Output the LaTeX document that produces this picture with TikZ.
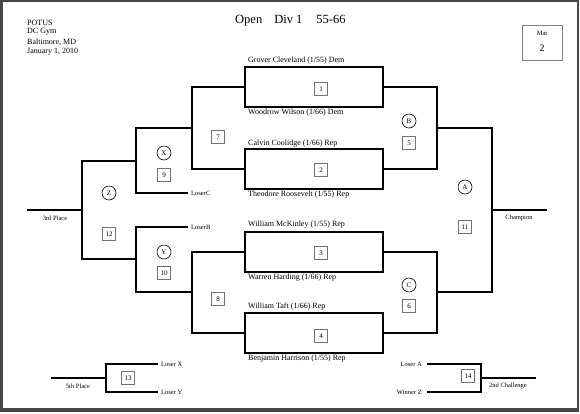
\documentclass[tikz,border=0pt]{standalone}
\usepackage{fontspec}
\setmainfont{Liberation Serif}
\tikzset{
  brk/.style={black, line width=1.2pt},
  mbox/.style={draw=black, line width=1.2pt, minimum width=138pt, minimum height=40pt, inner sep=0pt},
  numbox/.style={draw=black!55, line width=0.7pt, minimum size=13.5pt, inner sep=0pt, font=\fontsize{7}{8}\selectfont},
  tag/.style={circle, draw=black, line width=0.6pt, minimum size=14pt, inner sep=0pt, font=\fontsize{7}{8}\selectfont},
  wname/.style={anchor=west, inner sep=0pt, font=\fontsize{8}{9}\selectfont},
  slbl/.style={inner sep=0pt, font=\fontsize{6.5}{7}\selectfont},
  hdr/.style={anchor=west, inner sep=0pt, font=\fontsize{8}{9}\selectfont},
  pageframe/.style={fill=black!72, draw=none},
}
\begin{document}
\begin{tikzpicture}[x=1pt, y=-1pt]
  \useasboundingbox (0,0) rectangle (580,413);
  % --- page frame ---
  \fill[pageframe] (0,0) rectangle (3,412);
  \fill[pageframe] (0,0) rectangle (579,1.5);
  \fill[pageframe] (577,0) rectangle (579,412);
  \fill[pageframe] (0,408) rectangle (579,412);

  % --- header ---
  \node[hdr] (org)   at (27,23) {POTUS};
  \node[hdr] (gym)   at (27,32) {DC Gym};
  \node[hdr] (city)  at (27,42) {Baltimore, MD};
  \node[hdr] (date)  at (27,52) {January\ 1, 2010};
  \node[anchor=west, inner sep=0pt, font=\fontsize{12.5}{14}\selectfont] (title) at (235,21)
    {Open\hspace{12pt}Div 1\hspace{14pt}55-66};
  \node[draw=black!50, line width=0.8pt, minimum width=40pt, minimum height=35pt] (mat) at (542,42.5) {};
  \node[font=\fontsize{6.5}{7}\selectfont, inner sep=0pt] (matlbl) at (542,33) {Mat};
  \node[font=\fontsize{10}{11}\selectfont, inner sep=0pt] (matno) at (542,48) {2};

  % --- first round boxes ---
  \node[mbox] (m1) at (314,87)  {};
  \node[mbox] (m2) at (314,169) {};
  \node[mbox] (m3) at (314,252) {};
  \node[mbox] (m4) at (314,333) {};
  \node[numbox] (n1) at (321,89)  {1};
  \node[numbox] (n2) at (321,170) {2};
  \node[numbox] (n3) at (321,253) {3};
  \node[numbox] (n4) at (321,336) {4};

  % --- wrestlers ---
  \node[wname] (w1a) at (248,61)  {Grover Cleveland (1/55) Dem};
  \node[wname] (w1b) at (248,113) {Woodrow Wilson (1/66) Dem};
  \node[wname] (w2a) at (248,144) {Calvin Coolidge (1/66) Rep};
  \node[wname] (w2b) at (248,195) {Theodore Roosevelt (1/55) Rep};
  \node[wname] (w3a) at (248,225) {William McKinley (1/55) Rep};
  \node[wname] (w3b) at (248,278) {Warren Harding (1/66) Rep};
  \node[wname] (w4a) at (248,307) {William Taft (1/66) Rep};
  \node[wname] (w4b) at (248,359) {Benjamin Harrison (1/55) Rep};

  % --- junctions and free ends ---
  \coordinate (j7) at (192,128);
  \coordinate (j8) at (192,292);
  \coordinate (jB) at (437,128);
  \coordinate (jC) at (437,292);
  \coordinate (jA) at (492,210);
  \coordinate (jX) at (136,161);
  \coordinate (jY) at (136,259);
  \coordinate (jZ) at (82,210);
  \coordinate (lC) at (188,193);
  \coordinate (lB) at (188,227);
  \coordinate (champ) at (547,210);
  \coordinate (third) at (27,210);
  \coordinate (j13) at (106,378);
  \coordinate (lX) at (158,364);
  \coordinate (lY) at (158,392);
  \coordinate (fifth) at (51,378);
  \coordinate (j14) at (481,378);
  \coordinate (lA) at (427,364);
  \coordinate (wZ) at (427,392);
  \coordinate (second) at (536,378);

  % --- championship side ---
  \draw[brk] (m1.east) -| (jB) |- (m2.east);
  \draw[brk] (m3.east) -| (jC) |- (m4.east);
  \draw[brk] (jB) -| (jA) |- (jC);
  \draw[brk] (jA) -- (champ);

  % --- consolation side ---
  \draw[brk] (m1.west) -| (j7) |- (m2.west);
  \draw[brk] (m3.west) -| (j8) |- (m4.west);
  \draw[brk] (j7) -| (jX) |- (lC);
  \draw[brk] (lB) -| (jY) |- (j8);
  \draw[brk] (jX) -| (jZ) |- (jY);
  \draw[brk] (jZ) -- (third);

  % --- 5th place and 2nd challenge ---
  \draw[brk] (lX) -| (j13) |- (lY);
  \draw[brk] (j13) -- (fifth);
  \draw[brk] (lA) -| (j14) |- (wZ);
  \draw[brk] (j14) -- (second);

  % --- bout tags ---
  \node[tag] (tB) at (409,121) {B};
  \node[numbox] (n5) at (409,143) {5};
  \node[tag] (tC) at (409,285) {C};
  \node[numbox] (n6) at (409,306) {6};
  \node[tag] (tA) at (465,187) {A};
  \node[numbox] (n11) at (465,227) {11};
  \node[numbox] (n7) at (218,137) {7};
  \node[numbox] (n8) at (218,299) {8};
  \node[tag] (tX) at (164,153) {X};
  \node[numbox] (n9) at (164,175) {9};
  \node[tag] (tY) at (164,252) {Y};
  \node[numbox] (n10) at (164,273) {10};
  \node[tag] (tZ) at (109,193) {Z};
  \node[numbox] (n12) at (109,234) {12};
  \node[numbox] (n13) at (128,378) {13};
  \node[numbox] (n14) at (468,376) {14};

  % --- labels ---
  \node[slbl, anchor=west] (llC) at ([xshift=3pt]lC) {LoserC};
  \node[slbl, anchor=west] (llB) at ([xshift=3pt]lB) {LoserB};
  \node[slbl, anchor=west] (llX) at ([xshift=3pt]lX) {Loser X};
  \node[slbl, anchor=west] (llY) at ([xshift=3pt]lY) {Loser Y};
  \node[slbl, anchor=east] (llA) at ([xshift=-5pt]lA) {Loser A};
  \node[slbl, anchor=east] (lwZ) at ([xshift=-5pt]wZ) {Winner Z};
  \node[slbl] (l3rd) at (55,218) {3rd Place};
  \node[slbl] (lchamp) at (519,218) {Champion};
  \node[slbl] (l5th) at (78,386) {5th Place};
  \node[slbl] (l2nd) at (508,386) {2nd Challenge};
\end{tikzpicture}
\end{document}
